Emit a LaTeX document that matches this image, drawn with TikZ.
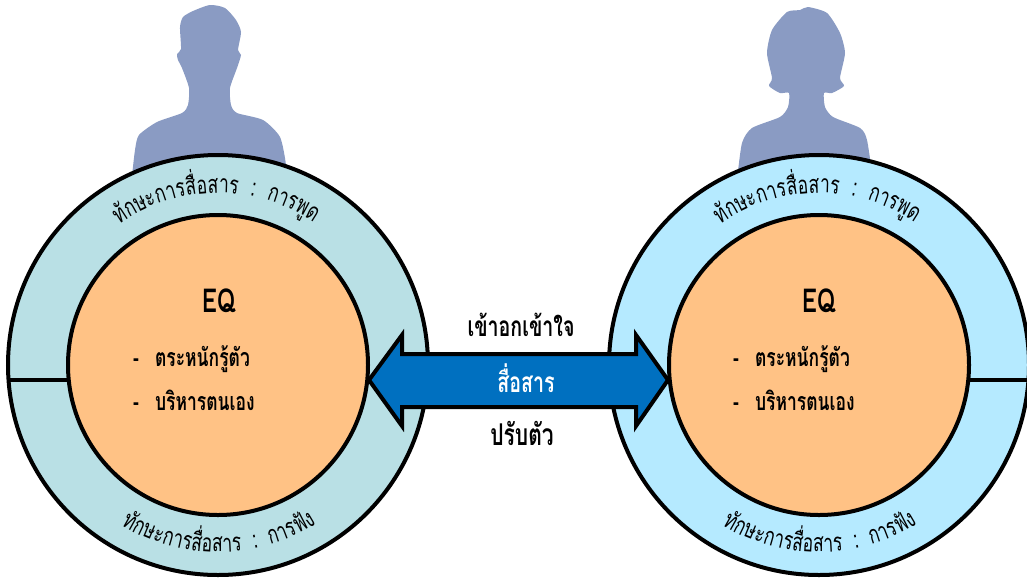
\documentclass[tikz,border=0pt]{standalone}
\usepackage{fontspec}
\setmainfont{Loma}[Script=Thai,FakeStretch=0.7]
\newlength\cw
\newlength\cacc
\newlength\ctot
\def\arcfont{\fontsize{25}{28}\selectfont}
\newcommand\measurecluster[1]{\settowidth{\cw}{\pgfinterruptpicture\arcfont #1\endpgfinterruptpicture}}
% name, cx, cy, radius, start angle, end angle, rotation offset, clusters
\newcommand\arclabel[8]{%
  \global\ctot=0pt
  \foreach \c in {#8}{\measurecluster{\c}\global\advance\ctot by \cw}%
  \global\cacc=0pt
  \foreach \c [count=\i] in {#8}{%
    \measurecluster{\c}%
    \pgfmathsetmacro\ang{#5+(#6-#5)*(\cacc+0.5*\cw)/\ctot}%
    \node[arclet,rotate=\ang+#7] (#1-\i) at ({#2+#4*cos(\ang)},{#3-#4*sin(\ang)}) {\c};
    \global\advance\cacc by \cw
  }%
}
\definecolor{sil}{HTML}{8A9BC3}
\definecolor{ringL}{HTML}{B9E0E5}
\definecolor{ringR}{HTML}{B5EAFF}
\definecolor{core}{HTML}{FFC285}
\definecolor{arrowblue}{HTML}{0070C0}
\tikzset{
  arclet/.style={font=\arcfont,anchor=base,inner sep=0pt,outer sep=0pt},
  outerring/.style={circle,draw=black,line width=4pt,minimum size=420pt,inner sep=0pt},
  innercore/.style={circle,draw=black,fill=core,line width=4pt,minimum size=300pt,inner sep=0pt},
  bigtxt/.style={font=\fontsize{28}{32}\selectfont\bfseries,text=black,inner sep=0pt},
  bodytxt/.style={font=\fontsize{25}{28}\selectfont\bfseries,text=black,inner sep=0pt,anchor=base west},
  eqtxt/.style={font=\fontsize{33}{36}\selectfont\bfseries,text=black,inner sep=0pt},
  person/.style={fill=sil,draw=none},
  divider/.style={draw=black,line width=3.2pt}
}
\begin{document}
\begin{tikzpicture}[x=1pt,y=-1pt]
\useasboundingbox (0,0) rectangle (1027,579);
\clip (0,0) rectangle (1027,579);
% silhouettes
\fill[person] plot[smooth,tension=0.4] coordinates {(131,185)(135,150)(139,135)(157,122)(182,113)(188,105)(189,88)(182,68)(178,60)(177,54)(181,49)(180,27)(183,17)(193,11)(210,5)(225,8)(236,20)(241,32)(238,50)(241,55)(237,68)(230,88)(231,105)(237,113)(263,120)(280,137)(286,165)(286,185)} -- cycle;
\fill[person] plot[smooth,tension=0.4] coordinates {(737,180)(742,143)(752,128)(780,117)(788,107)(789,93)(780,93)(769,86)(772,78)(767,53)(772,30)(787,12)(800,10)(808,7)(827,13)(840,33)(845,53)(840,78)(844,86)(832,93)(824,93)(825,107)(833,117)(860,128)(867,140)(873,180)} -- cycle;
% left
\node[outerring,fill=ringL] (outerL) at (218,365) {};
\node[innercore] (coreL) at (218,365) {};
\coordinate (divLa) at (8,380);
\coordinate (divLb) at (69,380);
\draw[divider] (divLa) -- (divLb);
% right
\node[outerring,fill=ringR] (outerR) at (819,365) {};
\node[innercore] (coreR) at (819,365) {};
\coordinate (divRa) at (969,380);
\coordinate (divRb) at (1027,380);
\draw[divider] (divRa) -- (divRb);
% curved labels
\arclabel{topL}{218}{365}{172}{125}{56}{-90}{ทั,ก,ษ,ะ,ก,า,ร,สื่,อ,ส,า,ร,~,~,:,~,~,ก,า,ร,พู,ด}
\arclabel{botL}{218}{365}{187}{-121}{-58}{90}{ทั,ก,ษ,ะ,ก,า,ร,สื่,อ,ส,า,ร,~,~,:,~,~,ก,า,ร,ฟั,ง}
\arclabel{topR}{819}{365}{172}{125}{56}{-90}{ทั,ก,ษ,ะ,ก,า,ร,สื่,อ,ส,า,ร,~,~,:,~,~,ก,า,ร,พู,ด}
\arclabel{botR}{819}{365}{187}{-121}{-58}{90}{ทั,ก,ษ,ะ,ก,า,ร,สื่,อ,ส,า,ร,~,~,:,~,~,ก,า,ร,ฟั,ง}
% inner texts
\node[eqtxt] (eqL) at (219,301) {EQ};
\node[bodytxt] (aL) at (133,366) {-\hspace{16pt}ตระหนักรู้ตัว};
\node[bodytxt] (bL) at (133,410) {-\hspace{16pt}บริหารตนเอง};
\node[eqtxt] (eqR) at (819,301) {EQ};
\node[bodytxt] (aR) at (733,366) {-\hspace{16pt}ตระหนักรู้ตัว};
\node[bodytxt] (bR) at (733,410) {-\hspace{16pt}บริหารตนเอง};
% double arrow
\draw[fill=arrowblue,draw=black,line width=4pt,line join=miter]
  (369,380) -- (402,335) -- (402,354) -- (636,354) -- (636,335) -- (668,380)
  -- (636,426) -- (636,407) -- (402,407) -- (402,426) -- cycle;
\node[bigtxt] (t1) at (521,325) {เข้าอกเข้าใจ};
\node[bigtxt,text=white] (t2) at (526,378) {สื่อสาร};
\node[bigtxt,font=\fontsize{30}{32}\selectfont\bfseries] (t3) at (522,433) {ปรับตัว};
\end{tikzpicture}
\end{document}
